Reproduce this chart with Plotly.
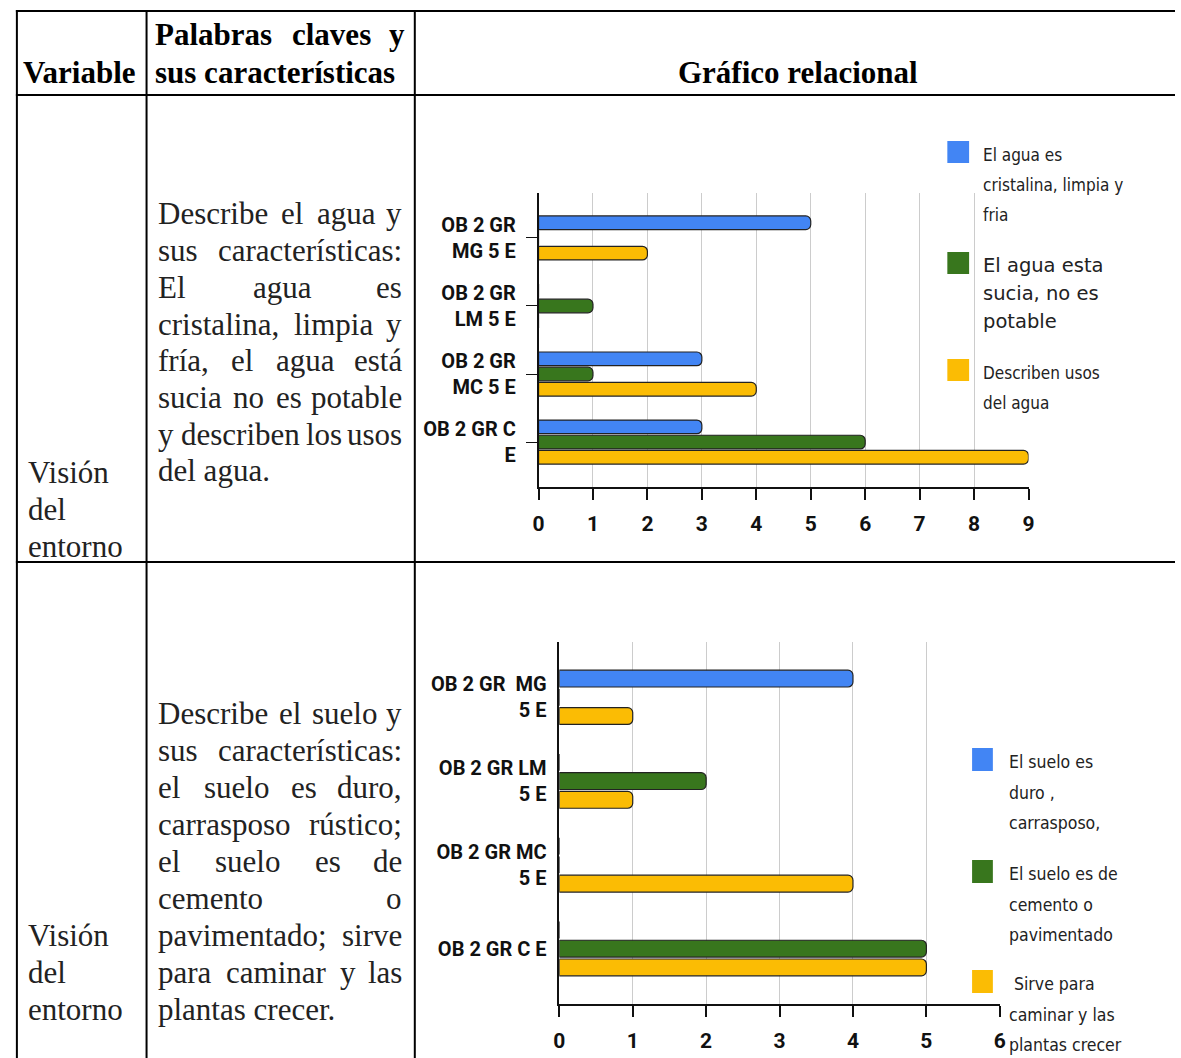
"""Tabla 'Visión del entorno' con dos gráficos de barras horizontales."""

import plotly.graph_objects as go

W, H = 1181, 1058

# --- datos ---------------------------------------------------------------
agua_cats = ["OB 2 GR<br>MG 5 E", "OB 2 GR<br>LM 5 E", "OB 2 GR<br>MC 5 E", "OB 2 GR C<br>E"]
agua_limpia = [5, 0, 3, 3]
agua_sucia = [0, 1, 1, 6]
agua_usos = [2, 0, 4, 9]
agua_series = ["El agua es cristalina, limpia y fria", "El agua esta sucia, no es potable",
               "Describen usos del agua"]

suelo_cats = ["OB 2 GR\u00a0 MG<br>5 E", "OB 2 GR LM<br>5 E", "OB 2 GR MC<br>5 E", "OB 2 GR C E"]
suelo_duro = [4, 0, 0, 0]
suelo_cemento = [0, 2, 0, 5]
suelo_caminar = [1, 1, 4, 5]
suelo_series = ["El suelo es duro , carrasposo,", "El suelo es de cemento o pavimentado",
                "Sirve para caminar y las plantas crecer"]

header_variable = "Variable"
header_palabras = ["Palabras claves y", "sus características"]
header_grafico = "Gráfico relacional"
variable_text = ["Visión", "del", "entorno"]
texto_agua = ["Describe el agua y", "sus características:", "El agua es",
              "cristalina, limpia y", "fría, el agua está", "sucia no es potable",
              "y describen los usos", "del agua."]
texto_suelo = ["Describe el suelo y", "sus características:", "el suelo es duro,",
               "carrasposo rústico;", "el suelo es de", "cemento o",
               "pavimentado; sirve", "para caminar y las", "plantas crecer."]
legend_agua = [["El agua es", "cristalina, limpia y", "fria"],
               ["El agua esta", "sucia, no es", "potable"],
               ["Describen usos", "del agua"]]
legend_suelo = [["El suelo es", "duro ,", "carrasposo,"],
                ["El suelo es de", "cemento o", "pavimentado"],
                ["\u00a0Sirve para", "caminar y las", "plantas crecer"]]

BLUE, GREEN, YELLOW = "#4285f4", "#38761d", "#fbbc04"
COLORS = [BLUE, GREEN, YELLOW]
SERIF = "Liberation Serif, Times New Roman, serif"
NARROW = "DejaVu Sans Condensed, Arial Narrow, sans-serif"
LABEL = "Roboto, Arial Narrow, sans-serif"

# Times metrics (em) for justified text
TIMES = {"a": .444, "b": .5, "c": .444, "d": .5, "e": .444, "f": .333, "g": .5, "h": .5,
         "i": .278, "j": .278, "k": .5, "l": .278, "m": .778, "n": .5, "o": .5, "p": .5,
         "q": .5, "r": .333, "s": .389, "t": .278, "u": .5, "v": .5, "w": .722, "x": .5,
         "y": .5, "z": .444, "á": .444, "é": .444, "í": .278, "ó": .5, "ú": .5,
         ",": .25, ".": .25, ":": .278, ";": .278, "D": .722, "E": .611, "V": .722}
TIMES_B = {"P": .611, "a": .5, "l": .278, "b": .556, "r": .444, "s": .389, "c": .444,
           "v": .5, "e": .444, "y": .5}


def px(x):
    return x / W


def py(y):
    return 1 - y / H


def word_w(s, size, bold):
    table = TIMES_B if bold else TIMES
    return sum(table.get(c, 0.5) for c in s) * size


def text(fig, s, x, y, size, family=SERIF, color="#222", anchor="left", bold=False):
    fig.add_annotation(
        x=px(x), y=py(y), xref="paper", yref="paper", text=f"<b>{s}</b>" if bold else s,
        xanchor=anchor, yanchor="middle", showarrow=False, borderpad=0,
        font={"family": family, "size": size, "color": color},
    )


def line(fig, s, x0, x1, y, size, bold=False, justify=True, color="#222"):
    words = s.split()
    if not justify or len(words) == 1:
        text(fig, s, x0, y, size, color=color, bold=bold)
        return
    widths = [word_w(w, size, bold) for w in words]
    gap = (x1 - x0 - sum(widths)) / (len(words) - 1)
    x = x0
    for i, w in enumerate(words):
        if i == len(words) - 1:
            text(fig, w, x1, y, size, color=color, anchor="right", bold=bold)
        else:
            text(fig, w, x, y, size, color=color, bold=bold)
        x += widths[i] + gap


fig = go.Figure()

for vals, name, col in zip([agua_limpia, agua_sucia, agua_usos], agua_series, COLORS):
    fig.add_trace(go.Bar(
        y=agua_cats, x=vals, orientation="h", name=name, showlegend=False,
        marker={"color": col, "line": {"color": "#222", "width": 1.2}},
        xaxis="x", yaxis="y",
    ))
for vals, name, col in zip([suelo_duro, suelo_cemento, suelo_caminar], suelo_series, COLORS):
    fig.add_trace(go.Bar(
        y=suelo_cats, x=vals, orientation="h", name=name, showlegend=False,
        marker={"color": col, "line": {"color": "#222", "width": 1.2}},
        xaxis="x2", yaxis="y2",
    ))

tickfont = {"family": LABEL, "size": 20, "color": "#111"}
xcommon = dict(dtick=1, showgrid=True, gridcolor="#cccccc", gridwidth=1, zeroline=False,
               showline=True, linecolor="#111", linewidth=1.5, ticks="outside", ticklen=11,
               tickcolor="#111", tickwidth=1.5, tickfont={**tickfont, "size": 21},
               tickprefix="<b>", ticksuffix="</b>", fixedrange=True)
ycommon = dict(type="category", showgrid=False, showline=True, linecolor="#111", linewidth=1.5,
               tickfont=tickfont, tickprefix="<b>", ticksuffix="</b>", fixedrange=True)

fig.update_layout(
    width=W, height=H, autosize=False,
    margin={"l": 0, "r": 0, "t": 0, "b": 0},
    paper_bgcolor="white", plot_bgcolor="white",
    barmode="group", bargap=0.33, bargroupgap=0.1, barcornerradius=5,
    xaxis={**xcommon, "domain": [px(538), px(1033)], "range": [0, 9], "anchor": "y",
           "ticklabelstandoff": 6},
    yaxis={**ycommon, "domain": [py(487), py(193)], "range": [3.66, -0.66], "anchor": "x",
           "ticks": "outside", "ticklen": 11, "tickcolor": "#111", "ticklabelstandoff": 6},
    xaxis2={**xcommon, "domain": [px(559), px(1004)], "range": [0, 6], "anchor": "y2",
            "ticklabelstandoff": 6},
    yaxis2={**ycommon, "domain": [py(1004), py(642)], "range": [3.66, -0.66], "anchor": "x2",
            "ticks": "", "ticklabelstandoff": 7},
)

# table rules
for y in [11, 95, 562]:
    fig.add_shape(type="line", xref="paper", yref="paper", x0=px(10), x1=1, y0=py(y), y1=py(y),
                  line={"color": "black", "width": 2})
for x in [11, 142, 413]:
    fig.add_shape(type="line", xref="paper", yref="paper", x0=px(x), x1=px(x), y0=py(10), y1=0,
                  line={"color": "black", "width": 2})

# header
text(fig, header_variable, 16, 73, 31, color="black", bold=True)
line(fig, header_palabras[0], 150, 404, 35, 31, bold=True, color="black")
line(fig, header_palabras[1], 150, 404, 73, 31, bold=True, justify=False, color="black")
text(fig, header_grafico, 800, 73, 31, color="black", anchor="center", bold=True)

# body text
for i, s in enumerate(variable_text):
    text(fig, s, 21, 472 + 37 * i, 31)
    text(fig, s, 21, 935 + 37 * i, 31)
for i, s in enumerate(texto_agua):
    line(fig, s, 153, 401, 214 + 36.7 * i, 31, justify=i < len(texto_agua) - 1)
for i, s in enumerate(texto_suelo):
    line(fig, s, 153, 401, 713 + 37.1 * i, 31, justify=i < len(texto_suelo) - 1)

# legends
leg1_tops = [141, 252, 359]
for k, (lines_, top) in enumerate(zip(legend_agua, leg1_tops)):
    fig.add_shape(type="rect", xref="paper", yref="paper", x0=px(951), x1=px(973),
                  y0=py(top), y1=py(top + 22), fillcolor=COLORS[k], line={"width": 0})
    for j, s in enumerate(lines_):
        if k == 1:
            text(fig, s, 986, top + 13 + 28 * j, 19.5, family="DejaVu Sans", color="#222")
        else:
            text(fig, s, 986, top + 14 + 30 * j, 17, family=NARROW, color="#222")

leg2_tops = [748, 860, 970]
for k, (lines_, top) in enumerate(zip(legend_suelo, leg2_tops)):
    fig.add_shape(type="rect", xref="paper", yref="paper", x0=px(976), x1=px(997),
                  y0=py(top), y1=py(top + 23), fillcolor=COLORS[k], line={"width": 0})
    for j, s in enumerate(lines_):
        text(fig, s, 1012, top + 14 + 30.5 * j, 17.5, family=NARROW, color="#222")

fig.write_html(
    "out.html", config={"displayModeBar": False},
    post_script="document.body.style.margin='0px';document.body.style.overflow='hidden';"
                "document.documentElement.style.overflow='hidden';",
)
